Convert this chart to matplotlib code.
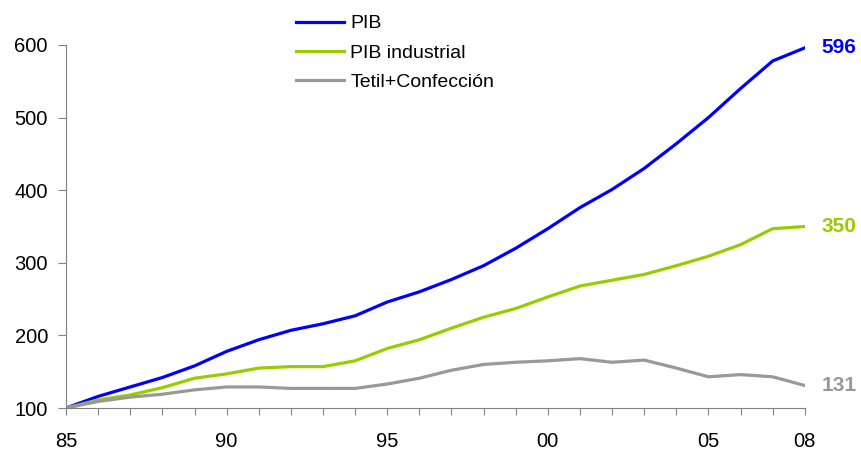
import matplotlib
matplotlib.use("Agg")
import matplotlib.pyplot as plt

plt.rcParams['font.family'] = ['Liberation Sans', 'DejaVu Sans']

years = list(range(1985, 2009))
x_tick_years = [1985, 1990, 1995, 2000, 2005, 2008]
x_tick_labels = ["85", "90", "95", "00", "05", "08"]

pib = [100, 116, 129, 142, 158, 178, 194, 207, 216, 227, 246, 260,
       277, 296, 320, 347, 376, 401, 430, 464, 500, 540, 578, 596]
pib_ind = [100, 111, 118, 128, 141, 147, 155, 157, 157, 165, 182, 194,
           210, 225, 237, 253, 268, 276, 284, 296, 309, 325, 347, 350]
textil = [100, 109, 115, 119, 125, 129, 129, 127, 127, 127, 133, 141,
          152, 160, 163, 165, 168, 163, 166, 155, 143, 146, 143, 131]

series_names = ["PIB", "PIB industrial", "Tetil+Confección"]
colors = ["#0000FF", "#99CC00", "#999999"]
series = [pib, pib_ind, textil]

fig = plt.figure(figsize=(8.61, 4.49), dpi=100)
ax = fig.add_axes([0.0767, 0.0913, 0.858, 0.8085])

for vals, name, c in zip(series, series_names, colors):
    ax.plot(years, vals, color=c, lw=2.3, label=name, solid_joinstyle='round')
    ax.annotate(str(vals[-1]), xy=(years[-1], vals[-1]), xytext=(12, 0),
                textcoords='offset points', color=c, fontsize=15,
                fontweight='bold', va='center', ha='left', annotation_clip=False)

ax.set_xlim(1985, 2008)
ax.set_ylim(100, 600)
ax.set_yticks([100, 200, 300, 400, 500, 600])
ax.set_xticks(years)
ax.set_xticklabels([x_tick_labels[x_tick_years.index(y)] if y in x_tick_years else "" for y in years])
ax.spines['top'].set_visible(False)
ax.spines['right'].set_visible(False)
ax.spines['left'].set_color('#808080')
ax.spines['bottom'].set_color('#808080')
ax.tick_params(axis='both', colors='#808080', labelcolor='black', labelsize=14.5,
               direction='out')
ax.tick_params(axis='y', length=6, pad=7)
ax.tick_params(axis='x', length=5, pad=12)

leg = ax.legend(loc='upper left', bbox_to_anchor=(0.311, 1.083), frameon=False,
                fontsize=14, handlelength=2.5, handletextpad=0.3, labelspacing=0.6,
                borderaxespad=0, borderpad=0)

fig.savefig("out.png", dpi=100)
